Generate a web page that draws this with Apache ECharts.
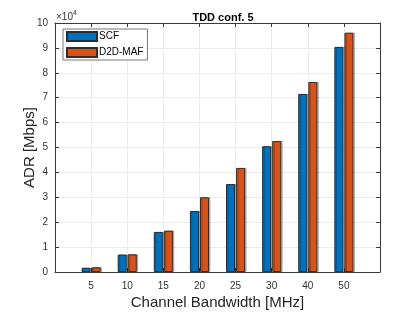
<!DOCTYPE html>
<html><head><meta charset="utf-8">
<script src="https://cdn.jsdelivr.net/npm/echarts@6/dist/echarts.min.js"></script>
<style>html,body{margin:0;padding:0;background:#fff}#c{width:420px;height:315px}</style>
</head><body><div id="c"></div>
<script>
const categories = ['5','10','15','20','25','30','40','50'];
const scf = [1700, 7000, 16100, 24500, 35300, 50500, 71500, 90400];
const d2d = [1900, 7100, 16600, 30000, 41800, 52600, 76300, 96100];
const yTicks = [0,1,2,3,4,5,6,7,8,9,10];
const seriesNames = ['SCF','D2D-MAF'];
const title = 'TDD conf. 5';
const xName = 'Channel Bandwidth [MHz]';
const yName = 'ADR [Mbps]';

const FONT = 'Liberation Sans, Arial, sans-serif';
const chart = echarts.init(document.getElementById('c'), null, {renderer:'canvas'});
const toPts = arr => arr.map((v,i)=>[i+1, v]);
const gridCol = '#ececec';
function xAx(pos, labels){
  return {type:'value', position:pos, min:0, max:categories.length+1, interval:1,
    axisLine:{show:true, onZero:false, lineStyle:{color:'#3a3a3a', width:1}},
    axisTick:{show:true, inside:true, length:4, lineStyle:{color:'#3a3a3a'}},
    axisLabel:{show:labels, color:'#333', fontFamily:FONT, fontSize:10, margin:9,
      formatter:v=> (v>=1 && v<=categories.length) ? categories[v-1] : ''},
    splitLine:{show:labels, lineStyle:{color:gridCol, width:1}},
    name: labels? xName : '', nameLocation:'middle', nameGap:23, nameMoveOverlap:false,
    nameTextStyle:{fontFamily:FONT, fontSize:15, color:'#262626'}};
}
function yAx(pos, labels){
  return {type:'value', position:pos, min:0, max:100000, interval:10000,
    axisLine:{show:true, onZero:false, lineStyle:{color:'#3a3a3a', width:1}},
    axisTick:{show:true, inside:true, length:4, lineStyle:{color:'#3a3a3a'}},
    axisLabel:{show:labels, color:'#333', fontFamily:FONT, fontSize:10, margin:7,
      formatter:v=> String(yTicks[Math.round(v/10000)])},
    splitLine:{show:labels, lineStyle:{color:gridCol, width:1}},
    name: labels? yName : '', nameLocation:'middle', nameGap:18, nameMoveOverlap:false,
    nameTextStyle:{fontFamily:FONT, fontSize:15, color:'#262626'}};
}
chart.setOption({
  animation:false,
  title:{text:title, left:218, textAlign:'center', top:7,
    textStyle:{fontFamily:FONT, fontSize:11, fontWeight:'bold', color:'#000'}},
  grid:{left:55, right:40, top:23, bottom:39, containLabel:false},
  xAxis:[xAx('bottom', true), xAx('top', false)],
  yAxis:[yAx('left', true), yAx('right', false)],
  legend:{orient:'vertical', left:63, top:29, itemWidth:30, itemHeight:9, itemGap:5,
    icon:'rect',
    padding:[2,4,2,3], backgroundColor:'#fff', borderColor:'#777', borderWidth:1,
    textStyle:{fontFamily:FONT, fontSize:10, color:'#000', padding:[0,0,0,-3]},
    data:seriesNames},
  graphic:[{type:'text', left:56, top:10,
    style:{rich:{a:{fontSize:10, fontFamily:FONT, fill:'#333'}, b:{fontSize:7, fontFamily:FONT, fill:'#333', verticalAlign:'top', padding:[0,0,7,0]}},
      text:'{a|×10}{b|4}'}}],
  series:[
    {name:seriesNames[0], type:'bar', data:toPts(scf), barWidth:9, barGap:'12%',
      itemStyle:{color:'#0072BD', borderColor:'#1f2f3f', borderWidth:1,
        shadowColor:'rgba(0,0,0,0.25)', shadowOffsetX:1.5, shadowBlur:0}},
    {name:seriesNames[1], type:'bar', data:toPts(d2d), barWidth:9, barGap:'12%',
      itemStyle:{color:'#D95319', borderColor:'#3f2a20', borderWidth:1,
        shadowColor:'rgba(0,0,0,0.25)', shadowOffsetX:1.5, shadowBlur:0}}
  ]
});
</script></body></html>
